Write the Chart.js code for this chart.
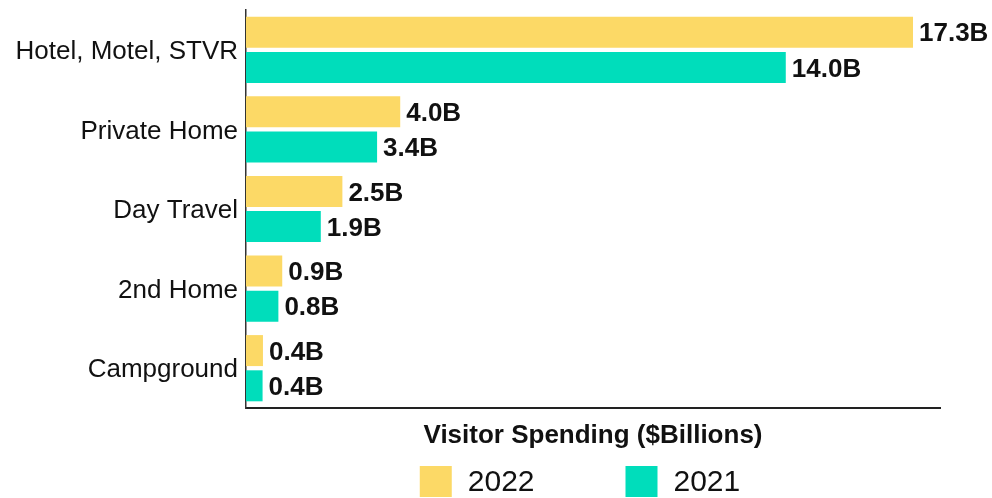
<!DOCTYPE html>
<html>
<head>
<meta charset="utf-8">
<script src="https://cdn.jsdelivr.net/npm/chart.js@4"></script>
<style>
  html, body { margin: 0; padding: 0; background: #ffffff; }
  #wrap { width: 992px; height: 498px; }
</style>
</head>
<body>
<div id="wrap"><canvas id="c" width="992" height="498"></canvas></div>
<script>
const categories = ["Hotel, Motel, STVR", "Private Home", "Day Travel", "2nd Home", "Campground"];
const series2022 = [17.3, 4.0, 2.5, 0.94, 0.44];
const series2021 = [14.0, 3.4, 1.94, 0.84, 0.43];
const seriesNames = ["2022", "2021"];
const seriesColors = ["#FCD966", "#00DDBB"];
const xAxisTitle = "Visitor Spending ($Billions)";
const xMax = 18;

const FONT = '"Liberation Sans", Arial, sans-serif';

const valueLabels = {
  id: 'valueLabels',
  afterDatasetsDraw(chart) {
    const ctx = chart.ctx;
    ctx.save();
    ctx.font = 'bold 26px ' + FONT;
    ctx.fillStyle = '#111111';
    ctx.textAlign = 'left';
    ctx.textBaseline = 'middle';
    chart.data.datasets.forEach((ds, i) => {
      const meta = chart.getDatasetMeta(i);
      meta.data.forEach((bar, j) => {
        const v = ds.data[j];
        ctx.fillText(v.toFixed(1) + 'B', bar.x + 6, bar.y + 2);
      });
    });
    ctx.restore();
  }
};

const bottomLegend = {
  id: 'bottomLegend',
  afterDraw(chart) {
    const ctx = chart.ctx;
    const box = 32, gapText = 16, gapItem = 91;
    ctx.save();
    ctx.font = '30px ' + FONT;
    ctx.textAlign = 'left';
    ctx.textBaseline = 'middle';
    const items = chart.data.datasets.map(ds => ({
      label: ds.label, color: ds.backgroundColor, w: ctx.measureText(ds.label).width
    }));
    let total = 0;
    items.forEach((it, i) => { total += box + gapText + it.w + (i < items.length - 1 ? gapItem : 0); });
    const ca = chart.chartArea;
    let x = (ca.left + ca.right) / 2 - total / 2 - 13;
    const top = 466;
    items.forEach(it => {
      ctx.fillStyle = it.color;
      ctx.fillRect(x, top, box, box - 1);
      ctx.fillStyle = '#111111';
      ctx.fillText(it.label, x + box + gapText, top + box / 2 + 1);
      x += box + gapText + it.w + gapItem;
    });
    ctx.restore();
  }
};

new Chart(document.getElementById('c'), {
  type: 'bar',
  data: {
    labels: categories,
    datasets: [
      { label: seriesNames[0], data: series2022, backgroundColor: seriesColors[0], borderWidth: 0 },
      { label: seriesNames[1], data: series2021, backgroundColor: seriesColors[1], borderWidth: 0 }
    ]
  },
  options: {
    indexAxis: 'y',
    responsive: false,
    animation: false,
    devicePixelRatio: 1,
    categoryPercentage: 0.885,
    barPercentage: 0.88,
    layout: { padding: { top: 10, right: 52, left: 0, bottom: 34 } },
    plugins: {
      legend: { display: false },
      tooltip: { enabled: false }
    },
    scales: {
      x: {
        min: 0,
        max: xMax,
        grid: { display: false, drawTicks: false },
        border: { display: true, color: '#222222', width: 2 },
        ticks: { display: false },
        title: {
          display: true,
          text: xAxisTitle,
          color: '#111111',
          font: { size: 26, weight: 'bold', family: FONT },
          padding: { top: 0, bottom: 13 }
        },
        afterFit(scale) { scale.height = 56; scale.paddingLeft = 0; scale.paddingRight = 0; }
      },
      y: {
        grid: { display: false, drawTicks: false },
        border: { display: true, color: '#333333', width: 1.5 },
        ticks: {
          color: '#111111',
          padding: 8,
          labelOffset: 2,
          font: { size: 26, family: FONT }
        },
        afterFit(scale) { scale.width = 246; scale.paddingTop = 0; scale.paddingBottom = 0; }
      }
    }
  },
  plugins: [valueLabels, bottomLegend]
});
</script>
</body>
</html>
